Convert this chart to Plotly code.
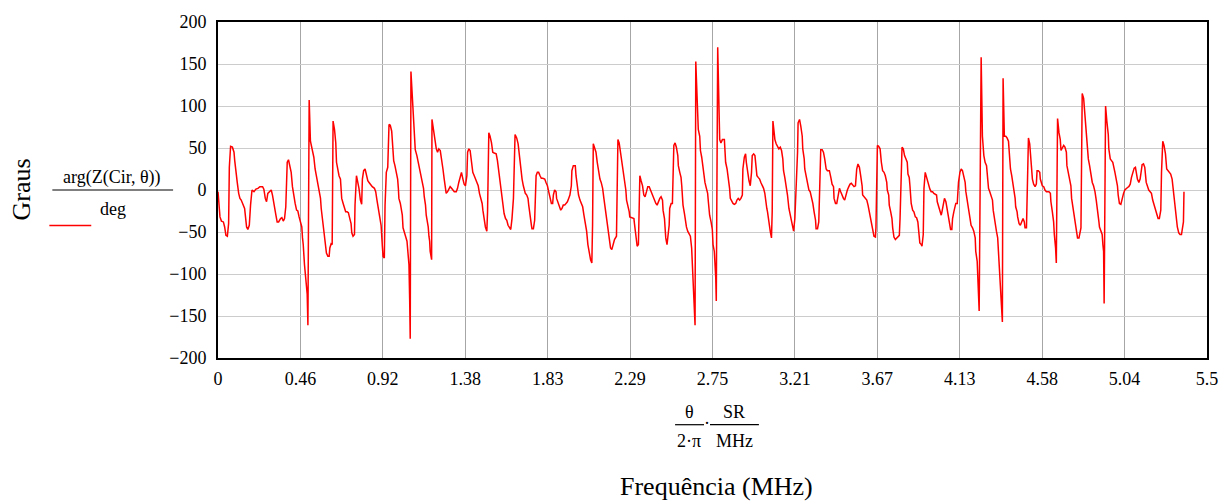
import plotly.graph_objects as go

# ---------------- data (frequency in MHz, phase in degrees) ----------------
f_seg1 = [0.000,0.004,0.011,0.019,0.030,0.037,0.044,0.052,0.059,0.063,0.070,0.080,0.089,0.093,0.100,0.107,0.115,0.122,0.129,0.137,0.148,0.154,0.159,0.166,0.174,0.181,0.189,0.200,0.211,0.222,0.233,0.248,0.255,0.263,0.270,0.277,0.289,0.296,0.303,0.311,0.322,0.329,0.337,0.348,0.355,0.363,0.370,0.377,0.385,0.392,0.400,0.407,0.414,0.422,0.429,0.437,0.444,0.451,0.459,0.466,0.470,0.474,0.481,0.488,0.496,0.500,0.507,0.514,0.522,0.533,0.540,0.551]
p_seg1 = [-2,-18,-32,-37,-38,-44,-54,-55,-40,27,52,51,45,35,19,9,-4,-10,-12,-16,-22,-34,-44,-47,-42,-18,0,-2,1,2,4,4,1,-10,-14,-4,-2,0,-6,-18,-30,-38,-38,-34,-33,-37,-34,-20,33,36,29,21,4,-8,-16,-24,-25,-32,-38,-44,-57,-65,-89,-104,-124,-161,107,58,51,39,25,11]

f_seg2 = [0.555,0.562,0.570,0.574,0.581,0.588,0.592,0.599,0.603,0.611,0.618,0.622,0.629,0.635,0.640,0.648,0.655,0.659,0.666,0.673,0.681,0.684,0.688,0.696,0.703,0.710,0.718,0.725,0.733,0.740,0.744,0.751,0.759,0.762,0.770,0.777,0.784,0.792,0.799,0.803,0.810,0.818,0.825,0.833,0.840,0.847,0.858,0.870,0.877,0.884,0.892,0.899,0.907,0.914,0.918,0.925,0.929,0.936,0.944,0.951,0.958,0.966,0.969,0.973,0.977,0.984,0.992,0.999,1.003,1.006,1.014,1.021,1.025,1.029,1.036,1.043,1.051,1.055,1.062,1.066,1.069,1.073,1.080,1.088,1.097,1.106]
p_seg2 = [9,-2,-10,-22,-34,-49,-57,-65,-75,-79,-79,-69,-64,-65,82,72,56,33,25,17,13,2,-10,-16,-20,-26,-26,-27,-34,-40,-51,-55,-53,-18,17,11,2,-12,-17,13,23,25,19,11,9,7,4,2,-2,-12,-24,-32,-42,-67,-79,-81,-18,21,27,78,77,70,58,47,35,29,21,13,2,-10,-16,-24,-30,-45,-49,-55,-61,-73,-89,-132,-177,141,111,90,48,41]

f_seg3 = [1.114,1.121,1.125,1.132,1.140,1.143,1.147,1.154,1.158,1.166,1.169,1.173,1.177,1.180,1.188,1.190,1.199,1.206,1.210,1.214,1.221,1.228,1.236,1.243,1.251,1.258,1.262,1.269,1.277,1.284,1.291,1.299,1.306,1.314,1.325,1.332,1.339,1.347,1.354,1.362,1.369,1.376,1.384,1.388,1.395,1.402,1.410,1.417,1.425,1.432,1.439,1.447,1.454,1.462,1.469,1.473,1.480,1.487,1.495,1.499,1.506,1.513,1.521,1.528,1.536,1.547,1.554,1.562,1.569,1.576,1.584,1.591,1.599,1.606,1.613,1.621,1.628,1.635,1.643,1.652,1.661]
p_seg3 = [33,25,19,13,5,2,-8,-18,-30,-38,-44,-55,-61,-73,-83,84,72,62,53,49,45,49,47,33,25,13,4,-4,-2,2,4,2,0,-2,-2,2,9,17,21,13,7,5,17,45,49,47,33,21,17,13,11,5,-4,-10,-16,-24,-34,-44,-49,-26,68,64,56,45,44,43,35,21,7,-6,-22,-28,-34,-36,-42,-45,-47,-34,-10,66,62]

f_seg4 = [1.669,1.676,1.680,1.684,1.691,1.698,1.702,1.709,1.717,1.724,1.728,1.732,1.735,1.743,1.746,1.754,1.761,1.765,1.769,1.776,1.783,1.791,1.798,1.806,1.817,1.824,1.832,1.839,1.846,1.854,1.861,1.865,1.872,1.880,1.883,1.891,1.898,1.906,1.913,1.920,1.928,1.935,1.943,1.950,1.957,1.965,1.968,1.976,1.987,1.991,1.998,2.005,2.013,2.020,2.028,2.035,2.042,2.050,2.057,2.065,2.072,2.079,2.083,2.087,2.094,2.102,2.109,2.116,2.124,2.131,2.139,2.146,2.153,2.161,2.168,2.176,2.183,2.190,2.198,2.205,2.216,2.224]
p_seg4 = [55,41,29,21,13,5,0,-4,-6,-10,-18,-26,-34,-42,-46,-46,-36,-12,17,21,21,17,14,14,13,9,5,-2,-10,-16,-16,-6,0,-2,-10,-16,-20,-24,-22,-18,-18,-16,-14,-10,-6,5,23,29,29,17,2,-6,-12,-16,-20,-30,-38,-49,-65,-77,-83,-87,-42,55,51,45,33,21,13,9,2,-10,-22,-34,-49,-61,-69,-71,-63,-59,-55,60]

f_seg5 = [2.231,2.239,2.246,2.253,2.261,2.268,2.272,2.279,2.287,2.290,2.301,2.313,2.316,2.320,2.324,2.327,2.331,2.338,2.342,2.346,2.353,2.361,2.368,2.375,2.383,2.390,2.398,2.405,2.412,2.420,2.427,2.435,2.442,2.449,2.457,2.464,2.472,2.475,2.483,2.486,2.490,2.497,2.501,2.509,2.512,2.520,2.527,2.535,2.542,2.549,2.557,2.560,2.568,2.575,2.579,2.586,2.594,2.597,2.605,2.612,2.620,2.627,2.634,2.638,2.642,2.649,2.653,2.657,2.664,2.671,2.679,2.683,2.690,2.697,2.705,2.708,2.716,2.723,2.727,2.734,2.742,2.749,2.753,2.760,2.768,2.771,2.779]
p_seg5 = [56,45,33,21,13,0,-12,-18,-26,-32,-33,-34,-40,-47,-57,-63,-67,-65,-10,17,11,5,-6,-8,-2,4,4,0,-4,-8,-12,-16,-18,-13,-10,-8,-12,-24,-34,-44,-57,-65,-57,-42,-22,-16,-16,53,56,51,41,29,21,15,5,-18,-28,-34,-44,-49,-53,-55,-69,-91,-120,-149,-161,153,119,72,64,47,39,25,17,9,2,-4,-14,-30,-38,-47,-65,-73,-104,-132,170]

f_seg6 = [2.782,2.786,2.790,2.797,2.805,2.816,2.819,2.823,2.831,2.838,2.845,2.849,2.856,2.864,2.871,2.879,2.886,2.893,2.901,2.908,2.916,2.919,2.927,2.934,2.938,2.945,2.953,2.960,2.967,2.971,2.979,2.986,2.990,2.997,3.004,3.012,3.019,3.027,3.034,3.041,3.045,3.052,3.056,3.064,3.071,3.078,3.082,3.086,3.093,3.097,3.104,3.112,3.119,3.127,3.134,3.141,3.145,3.152,3.160,3.167,3.175,3.182,3.189,3.197,3.201,3.208,3.215,3.223,3.226,3.234,3.241,3.249,3.252,3.260,3.263,3.271,3.278,3.286,3.293,3.300,3.308]
p_seg6 = [123,88,60,56,60,60,49,33,25,15,2,-10,-13,-16,-17,-16,-12,-10,-12,-10,-6,25,39,43,33,19,11,5,21,41,43,41,29,17,15,13,9,5,2,-4,-14,-22,-26,-42,-49,-57,-26,82,68,60,55,51,49,51,47,37,23,15,5,-6,-22,-30,-38,-45,-49,-34,-2,45,80,84,76,64,49,37,25,17,9,0,-2,-8,-16]

f_seg7 = [3.315,3.323,3.326,3.334,3.341,3.345,3.352,3.360,3.367,3.374,3.382,3.389,3.400,3.408,3.415,3.423,3.426,3.434,3.441,3.448,3.456,3.463,3.471,3.478,3.485,3.493,3.500,3.508,3.515,3.522,3.530,3.537,3.545,3.548,3.552,3.559,3.567,3.574,3.582,3.585,3.593,3.600,3.608,3.615,3.622,3.630,3.633,3.641,3.648,3.656,3.659,3.663,3.667,3.674,3.682,3.689,3.696,3.704,3.711,3.719,3.722,3.730,3.733,3.741,3.748,3.752,3.759,3.767,3.774,3.781,3.789,3.793,3.800,3.804,3.811,3.818,3.826,3.833,3.837,3.844,3.848,3.852,3.855,3.863]
p_seg7 = [-26,-36,-46,-46,-38,-2,48,48,45,37,25,23,23,15,7,4,-10,-16,-16,-8,2,-2,-8,-10,-12,-4,0,4,7,8,5,4,5,17,25,31,27,17,5,-6,-8,-10,-12,-18,-26,-32,-38,-47,-55,-56,-45,5,53,52,49,33,23,21,17,9,0,-6,-18,-26,-34,-45,-56,-59,-57,-55,-54,-34,13,51,49,41,37,33,19,15,5,-12,-16,-24]

f_seg8 = [3.870,3.878,3.885,3.892,3.896,3.900,3.903,3.911,3.915,3.922,3.926,3.933,3.940,3.948,3.952,3.959,3.966,3.974,3.981,3.989,3.996,4.000,4.007,4.015,4.022,4.026,4.033,4.040,4.048,4.055,4.063,4.070,4.074,4.081,4.085,4.092,4.100,4.103,4.111,4.114,4.118,4.126,4.133,4.140,4.148,4.155,4.159,4.166,4.174,4.181,4.188,4.196,4.203,4.211,4.214,4.222,4.229,4.233,4.244,4.251,4.259,4.266,4.274,4.281,4.285,4.292,4.299,4.307,4.311,4.318,4.322,4.329,4.336,4.340,4.348,4.351,4.355,4.359,4.362,4.366,4.370,4.373,4.381,4.388,4.396,4.399,4.403,4.407,4.414,4.422]
p_seg8 = [-26,-32,-33,-38,-47,-53,-63,-65,-67,-53,2,21,15,9,4,1,-2,-2,-4,-5,-6,-14,-20,-26,-30,-26,-18,-10,-14,-22,-30,-38,-47,-47,-34,-26,-18,-16,-16,-2,9,21,25,23,17,9,-2,-12,-24,-34,-42,-45,-49,-57,-73,-85,-120,-144,158,64,41,33,29,13,2,-2,-8,-12,-24,-34,-44,-49,-57,-73,-89,-106,-124,-144,-157,133,84,64,64,62,58,49,41,25,17,7]

f_seg9 = [4.429,4.433,4.436,4.444,4.447,4.455,4.462,4.470,4.477,4.484,4.488,4.496,4.499,4.503,4.507,4.514,4.518,4.525,4.529,4.536,4.544,4.551,4.555,4.562,4.570,4.573,4.581,4.584,4.592,4.599,4.607,4.614,4.621,4.629,4.632,4.640,4.647,4.651,4.655,4.658,4.662,4.666,4.669,4.677,4.684,4.688,4.695,4.703,4.710,4.718,4.721,4.729,4.736,4.743,4.747,4.755,4.762,4.769,4.773,4.780,4.788,4.795,4.799,4.803,4.806,4.814,4.821,4.829,4.832,4.840,4.847,4.854,4.862,4.869,4.877,4.884,4.891,4.895,4.899,4.902,4.910,4.917,4.921,4.925,4.928,4.932,4.936,4.943,4.951,4.954,4.962,4.969,4.976]
p_seg9 = [-2,-10,-20,-26,-32,-40,-42,-38,-34,-38,-45,-45,-18,37,62,55,41,29,13,7,4,7,23,23,21,13,7,5,4,0,-2,-2,-2,-4,-14,-26,-38,-53,-61,-69,-87,5,85,68,60,47,51,53,51,45,29,21,13,5,-10,-22,-30,-38,-45,-57,-57,-49,-45,45,115,109,88,72,53,37,29,19,9,5,-2,-12,-22,-30,-38,-44,-49,-53,-65,-73,-135,5,100,82,66,49,37,35,33]

f_seg10 = [4.988,4.995,5.002,5.006,5.013,5.021,5.028,5.036,5.043,5.050,5.058,5.065,5.073,5.080,5.088,5.095,5.102,5.106,5.113,5.121,5.128,5.136,5.139,5.147,5.154,5.162,5.169,5.176,5.184,5.191,5.198,5.206,5.213,5.221,5.228,5.235,5.243,5.247,5.254,5.261,5.269,5.276,5.284,5.291,5.298,5.306,5.313,5.317,5.324,5.328,5.335,5.343,5.350,5.358,5.365,5.369,5.372]
p_seg10 = [21,13,5,-6,-16,-17,-10,-4,0,2,3,4,7,15,21,26,27,21,13,9,13,25,30,31,27,9,4,0,-2,-4,-12,-18,-22,-28,-34,-34,-24,21,58,53,43,25,23,22,19,13,0,-14,-22,-30,-44,-51,-53,-53,-42,-38,-2]

x_ticks = [0, 0.4583, 0.9167, 1.375, 1.8333, 2.2917, 2.75, 3.2083, 3.6667, 4.125, 4.5833, 5.0417, 5.5]
x_tick_labels = ["0", "0.46", "0.92", "1.38", "1.83", "2.29", "2.75", "3.21", "3.67", "4.13", "4.58", "5.04", "5.5"]
y_ticks = [-200, -150, -100, -50, 0, 50, 100, 150, 200]

freq = (f_seg1 + f_seg2 + f_seg3 + f_seg4 + f_seg5 + f_seg6 + f_seg7 + f_seg8 + f_seg9 + f_seg10)
phase = (p_seg1 + p_seg2 + p_seg3 + p_seg4 + p_seg5 + p_seg6 + p_seg7 + p_seg8 + p_seg9 + p_seg10)

# ---------------- layout helpers ----------------
W, H = 1230, 501
L, R, T, B = 218, 21, 18, 143
PW, PH = W - L - R, H - T - B


def px(xp):
    return (xp - L) / PW


def py(yp):
    return (H - B - yp) / PH


SERIF = "Liberation Serif, Times New Roman, serif"

fig = go.Figure()
fig.add_trace(go.Scatter(x=freq, y=phase, mode="lines",
                         line=dict(color="#ff0000", width=1.5),
                         showlegend=False, hoverinfo="skip"))

ann = []


def text(s, xp, yp, size, angle=0):
    ann.append(dict(text=s, x=px(xp), y=py(yp), xref="paper", yref="paper",
                    xanchor="center", yanchor="middle", showarrow=False,
                    textangle=angle, font=dict(family=SERIF, size=size, color="black")))


# left label block
text("Graus", 21, 187, 26, angle=-90)
text("arg(Z(Cir, θ))", 112, 175, 18)
text("deg", 113, 207, 18)
# x-axis label block
text("θ", 690, 413, 18)
text("2·π", 690, 442, 18)
text("SR", 735, 413, 18)
text("MHz", 736, 442, 18)
text("·", 707.5, 424, 18)
text("Frequência (MHz)", 718, 488, 26)

shapes = [
    dict(type="line", xref="paper", yref="paper", x0=px(52), x1=px(173), y0=py(188), y1=py(188),
         line=dict(color="black", width=1.2)),
    dict(type="line", xref="paper", yref="paper", x0=px(49), x1=px(91), y0=py(224), y1=py(224),
         line=dict(color="#ff0000", width=1.5)),
    dict(type="line", xref="paper", yref="paper", x0=px(676), x1=px(705), y0=py(425.5), y1=py(425.5),
         line=dict(color="black", width=1.2)),
    dict(type="line", xref="paper", yref="paper", x0=px(711), x1=px(760), y0=py(425.5), y1=py(425.5),
         line=dict(color="black", width=1.2)),
]

fig.update_layout(
    width=W, height=H,
    margin=dict(l=L, r=R, t=T, b=B, pad=0),
    paper_bgcolor="white", plot_bgcolor="white",
    annotations=ann, shapes=shapes,
    font=dict(family=SERIF, size=18, color="black"),
    xaxis=dict(range=[0, 5.5], tickmode="array", tickvals=x_ticks, ticktext=x_tick_labels,
               showgrid=True, gridcolor="#a6a6a6", gridwidth=1,
               showline=True, mirror=True, linecolor="black", linewidth=2,
               ticks="", zeroline=False, ticklabelstandoff=3,
               tickfont=dict(family=SERIF, size=18, color="black")),
    yaxis=dict(range=[-200, 200], tickmode="array", tickvals=y_ticks,
               showgrid=True, gridcolor="#cccccc", gridwidth=1,
               showline=True, mirror=True, linecolor="black", linewidth=2,
               ticks="", zeroline=False, ticklabelstandoff=6,
               tickfont=dict(family=SERIF, size=18, color="black")),
)

fig.write_html("out.html")
